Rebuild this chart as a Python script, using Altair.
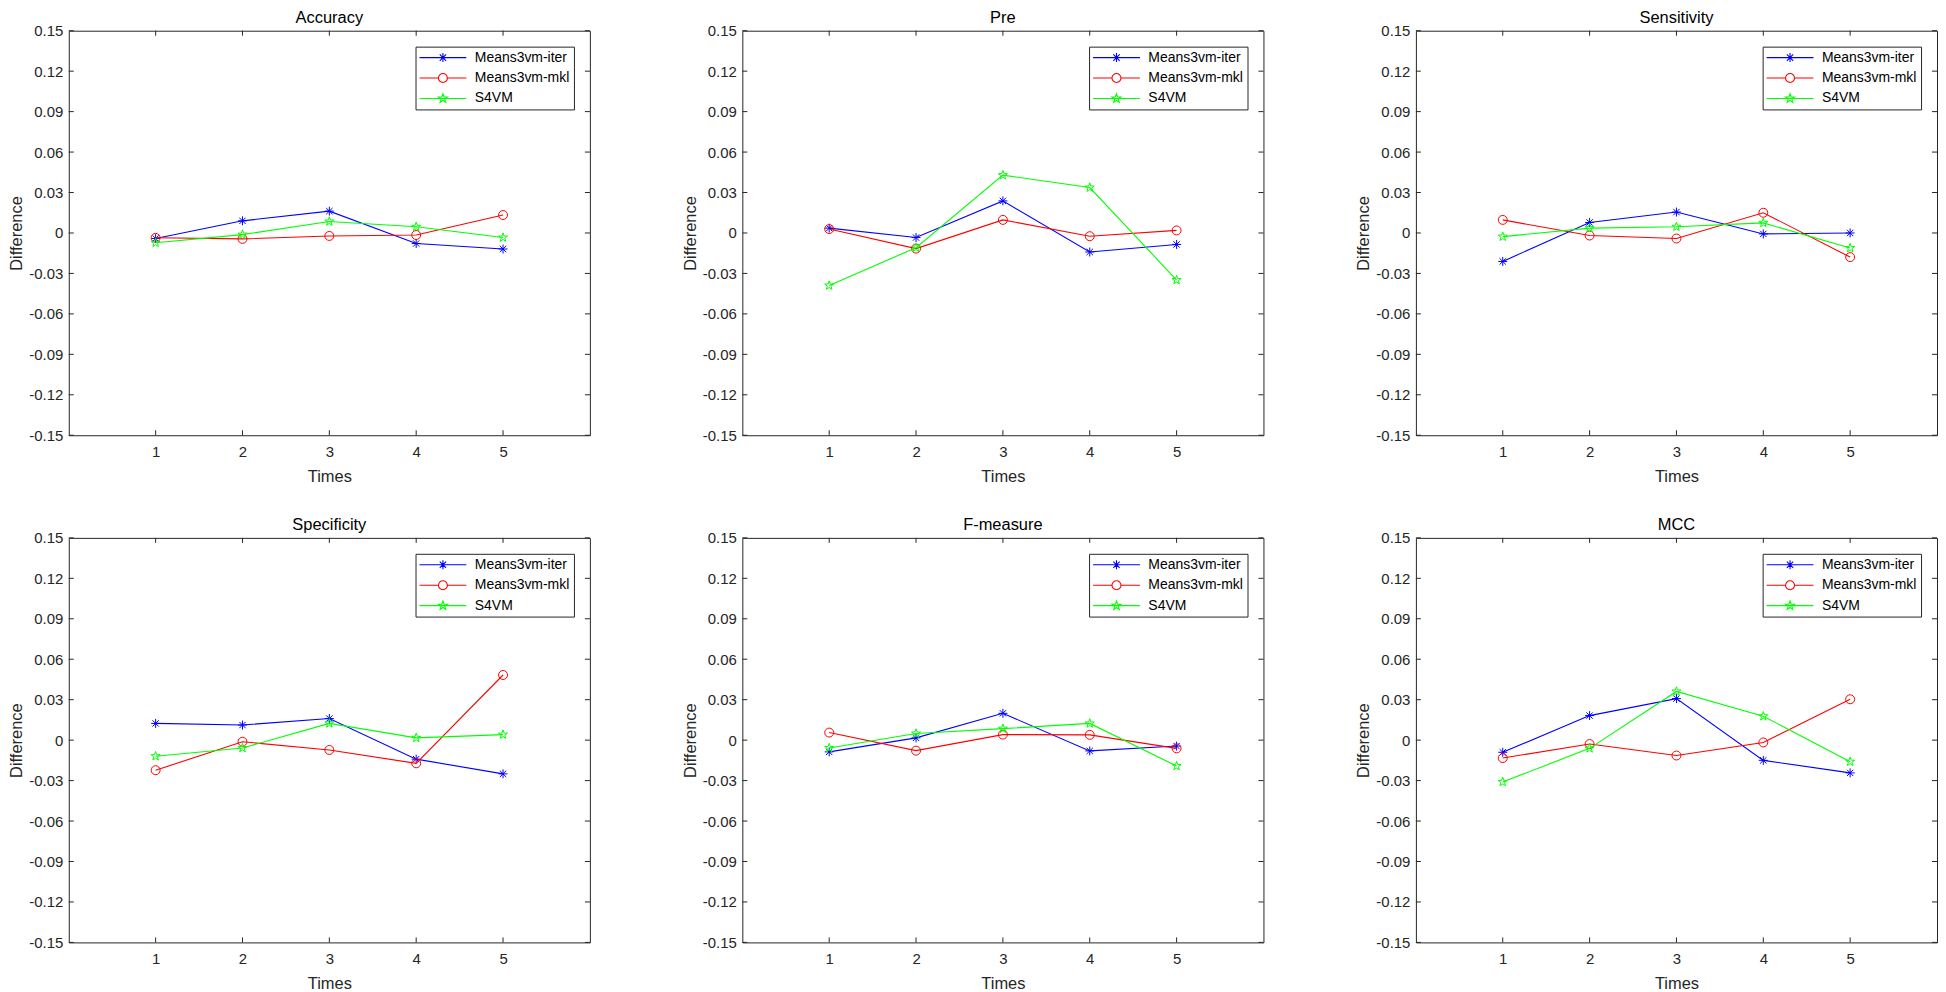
import math
import altair as alt
import pandas as pd

# ---------------- data ----------------
TIMES = [1, 2, 3, 4, 5]
SERIES = ["Means3vm-iter", "Means3vm-mkl", "S4VM"]
COLORS = ["#0000ff", "#ff0000", "#00ff00"]
YTICKS = [-0.15, -0.12, -0.09, -0.06, -0.03, 0.0, 0.03, 0.06, 0.09, 0.12, 0.15]

accuracy_iter = [-0.0041, 0.0090, 0.0162, -0.0078, -0.0119]
accuracy_mkl = [-0.0036, -0.0044, -0.0022, -0.0015, 0.0133]
accuracy_s4vm = [-0.0073, -0.0012, 0.0085, 0.0046, -0.0034]

pre_iter = [0.0036, -0.0034, 0.0238, -0.0141, -0.0085]
pre_mkl = [0.0029, -0.0116, 0.0097, -0.0024, 0.0019]
pre_s4vm = [-0.0390, -0.0109, 0.0429, 0.0337, -0.0349]

sensitivity_iter = [-0.0211, 0.0078, 0.0155, -0.0007, 0.0000]
sensitivity_mkl = [0.0097, -0.0019, -0.0041, 0.0150, -0.0179]
sensitivity_s4vm = [-0.0027, 0.0036, 0.0046, 0.0075, -0.0112]

specificity_iter = [0.0124, 0.0112, 0.0160, -0.0141, -0.0250]
specificity_mkl = [-0.0223, -0.0012, -0.0073, -0.0172, 0.0483]
specificity_s4vm = [-0.0119, -0.0058, 0.0124, 0.0017, 0.0041]

fmeasure_iter = [-0.0087, 0.0017, 0.0199, -0.0080, -0.0044]
fmeasure_mkl = [0.0056, -0.0078, 0.0041, 0.0039, -0.0061]
fmeasure_s4vm = [-0.0058, 0.0049, 0.0085, 0.0124, -0.0192]

mcc_iter = [-0.0090, 0.0182, 0.0308, -0.0150, -0.0243]
mcc_mkl = [-0.0133, -0.0029, -0.0114, -0.0017, 0.0303]
mcc_s4vm = [-0.0310, -0.0061, 0.0361, 0.0177, -0.0160]

PANELS = [
    ("Accuracy", [accuracy_iter, accuracy_mkl, accuracy_s4vm]),
    ("Pre", [pre_iter, pre_mkl, pre_s4vm]),
    ("Sensitivity", [sensitivity_iter, sensitivity_mkl, sensitivity_s4vm]),
    ("Specificity", [specificity_iter, specificity_mkl, specificity_s4vm]),
    ("F-measure", [fmeasure_iter, fmeasure_mkl, fmeasure_s4vm]),
    ("MCC", [mcc_iter, mcc_mkl, mcc_s4vm]),
]

# ---------------- styling ----------------
W, H = 523, 406
TICK = 5
FONT = "Liberation Sans"
AXC = "#262626"


def fmt(v):
    return f"{v:.3f}".rstrip("0").rstrip(".")


def star_path(R):
    pts = []
    for k in range(10):
        r = R if k % 2 == 0 else R * 0.40
        a = math.radians(-90 + 36 * k)
        pts.append((r * math.cos(a), r * math.sin(a)))
    return "M" + "L".join(f"{fmt(x)},{fmt(y)}" for x, y in pts) + "Z"


def circle_path(r):
    return (f"M{fmt(r)},0A{fmt(r)},{fmt(r)} 0 1,1 {fmt(-r)},0"
            f"A{fmt(r)},{fmt(r)} 0 1,1 {fmt(r)},0Z")


def asterisk_path(r):
    d = r * 0.7071
    return (f"M0,{fmt(-r)}V{fmt(r)}M{fmt(-r)},0H{fmt(r)}"
            f"M{fmt(-d)},{fmt(-d)}L{fmt(d)},{fmt(d)}M{fmt(-d)},{fmt(d)}L{fmt(d)},{fmt(-d)}")


MR = 0.9  # marker radius in symbol units (size 100 -> 5 px per unit)
MARKERS = [asterisk_path(MR), circle_path(MR), star_path(0.95)]
LINE = "M-4.7,0H4.7"
LEG_PATHS = [
    LINE + asterisk_path(MR),
    "M-4.7,0H" + fmt(-MR) + "M" + fmt(MR) + ",0H4.7" + circle_path(MR),
    LINE + star_path(0.95),
]

ytick_df = pd.DataFrame({"Difference": YTICKS})
xtick_df = pd.DataFrame({"Times": TIMES})

ylabel_expr = ("datum.value == 0 ? '0' : (datum.value < 0 ? '-' : '') + "
               "format(abs(datum.value), '.2f')")


def panel(title, vals):
    xs = alt.X("Times:Q",
               scale=alt.Scale(domain=[0, 6], nice=False, zero=False),
               axis=alt.Axis(values=TIMES, title="Times", grid=False, ticks=False,
                             domain=False, labelPadding=9, titlePadding=9, format="d"))
    ys = alt.Y("Difference:Q",
               scale=alt.Scale(domain=[-0.15, 0.15], nice=False, zero=False),
               axis=alt.Axis(values=YTICKS, title="Difference", grid=False, ticks=False,
                             domain=False, labelPadding=6, titlePadding=4,
                             labelExpr=ylabel_expr))

    layers = []
    tick_mark = alt.Chart(ytick_df).mark_rule(color=AXC, strokeWidth=1)
    layers.append(tick_mark.encode(y=ys, x=alt.value(0), x2=alt.value(TICK)))
    layers.append(tick_mark.encode(y=ys, x=alt.value(W - TICK), x2=alt.value(W)))
    xtick_mark = alt.Chart(xtick_df).mark_rule(color=AXC, strokeWidth=1)
    layers.append(xtick_mark.encode(x=xs, y=alt.value(0), y2=alt.value(TICK)))
    layers.append(xtick_mark.encode(x=xs, y=alt.value(H - TICK), y2=alt.value(H)))

    all_rows = []
    for s, c, m, v in zip(SERIES, COLORS, MARKERS, vals):
        df = pd.DataFrame({"Times": TIMES, "Difference": v, "Series": s})
        all_rows.append(df)
        layers.append(alt.Chart(df).mark_line(color=c, strokeWidth=1.1).encode(x=xs, y=ys))
        layers.append(alt.Chart(df).mark_point(shape=m, filled=False, size=100, color=c,
                                               strokeWidth=1, opacity=1).encode(x=xs, y=ys))

    leg = alt.Legend(title=None, orient="top-right", offset=16, padding=4,
                     fillColor="white", strokeColor=AXC, cornerRadius=0,
                     rowPadding=6.5, labelFontSize=14, labelFont=FONT, labelColor="#000000",
                     symbolSize=100, symbolStrokeWidth=1.1, symbolOffset=16.5,
                     labelOffset=25, symbolOpacity=1, symbolFillColor="transparent")
    legend_df = pd.concat(all_rows, ignore_index=True)
    layers.append(
        alt.Chart(legend_df).mark_point(filled=False, size=100, opacity=0).encode(
            x=xs, y=ys,
            color=alt.Color("Series:N", scale=alt.Scale(domain=SERIES, range=COLORS), legend=leg),
            shape=alt.Shape("Series:N", scale=alt.Scale(domain=SERIES, range=LEG_PATHS), legend=leg),
        )
    )

    return alt.layer(*layers).properties(
        width=W, height=H,
        title=alt.Title(title, anchor="middle", offset=-3, frame="group", fontSize=16.5,
                        font=FONT, fontWeight="normal", color="#000000"),
    )


charts = [panel(t, v) for t, v in PANELS]
row1 = alt.hconcat(*charts[:3], spacing=91).resolve_scale(color="independent", shape="independent")
row2 = alt.hconcat(*charts[3:], spacing=91).resolve_scale(color="independent", shape="independent")

chart = alt.vconcat(row1, row2, spacing=32).resolve_scale(
    color="independent", shape="independent"
).properties(padding=0).configure_view(
    stroke=AXC, strokeWidth=1
).configure_axis(
    labelFont=FONT, labelFontSize=15, labelColor=AXC,
    titleFont=FONT, titleFontSize=16.5, titleFontWeight="normal", titleColor=AXC,
)

chart.save("out.html", embed_options={"renderer": "svg", "actions": False})
